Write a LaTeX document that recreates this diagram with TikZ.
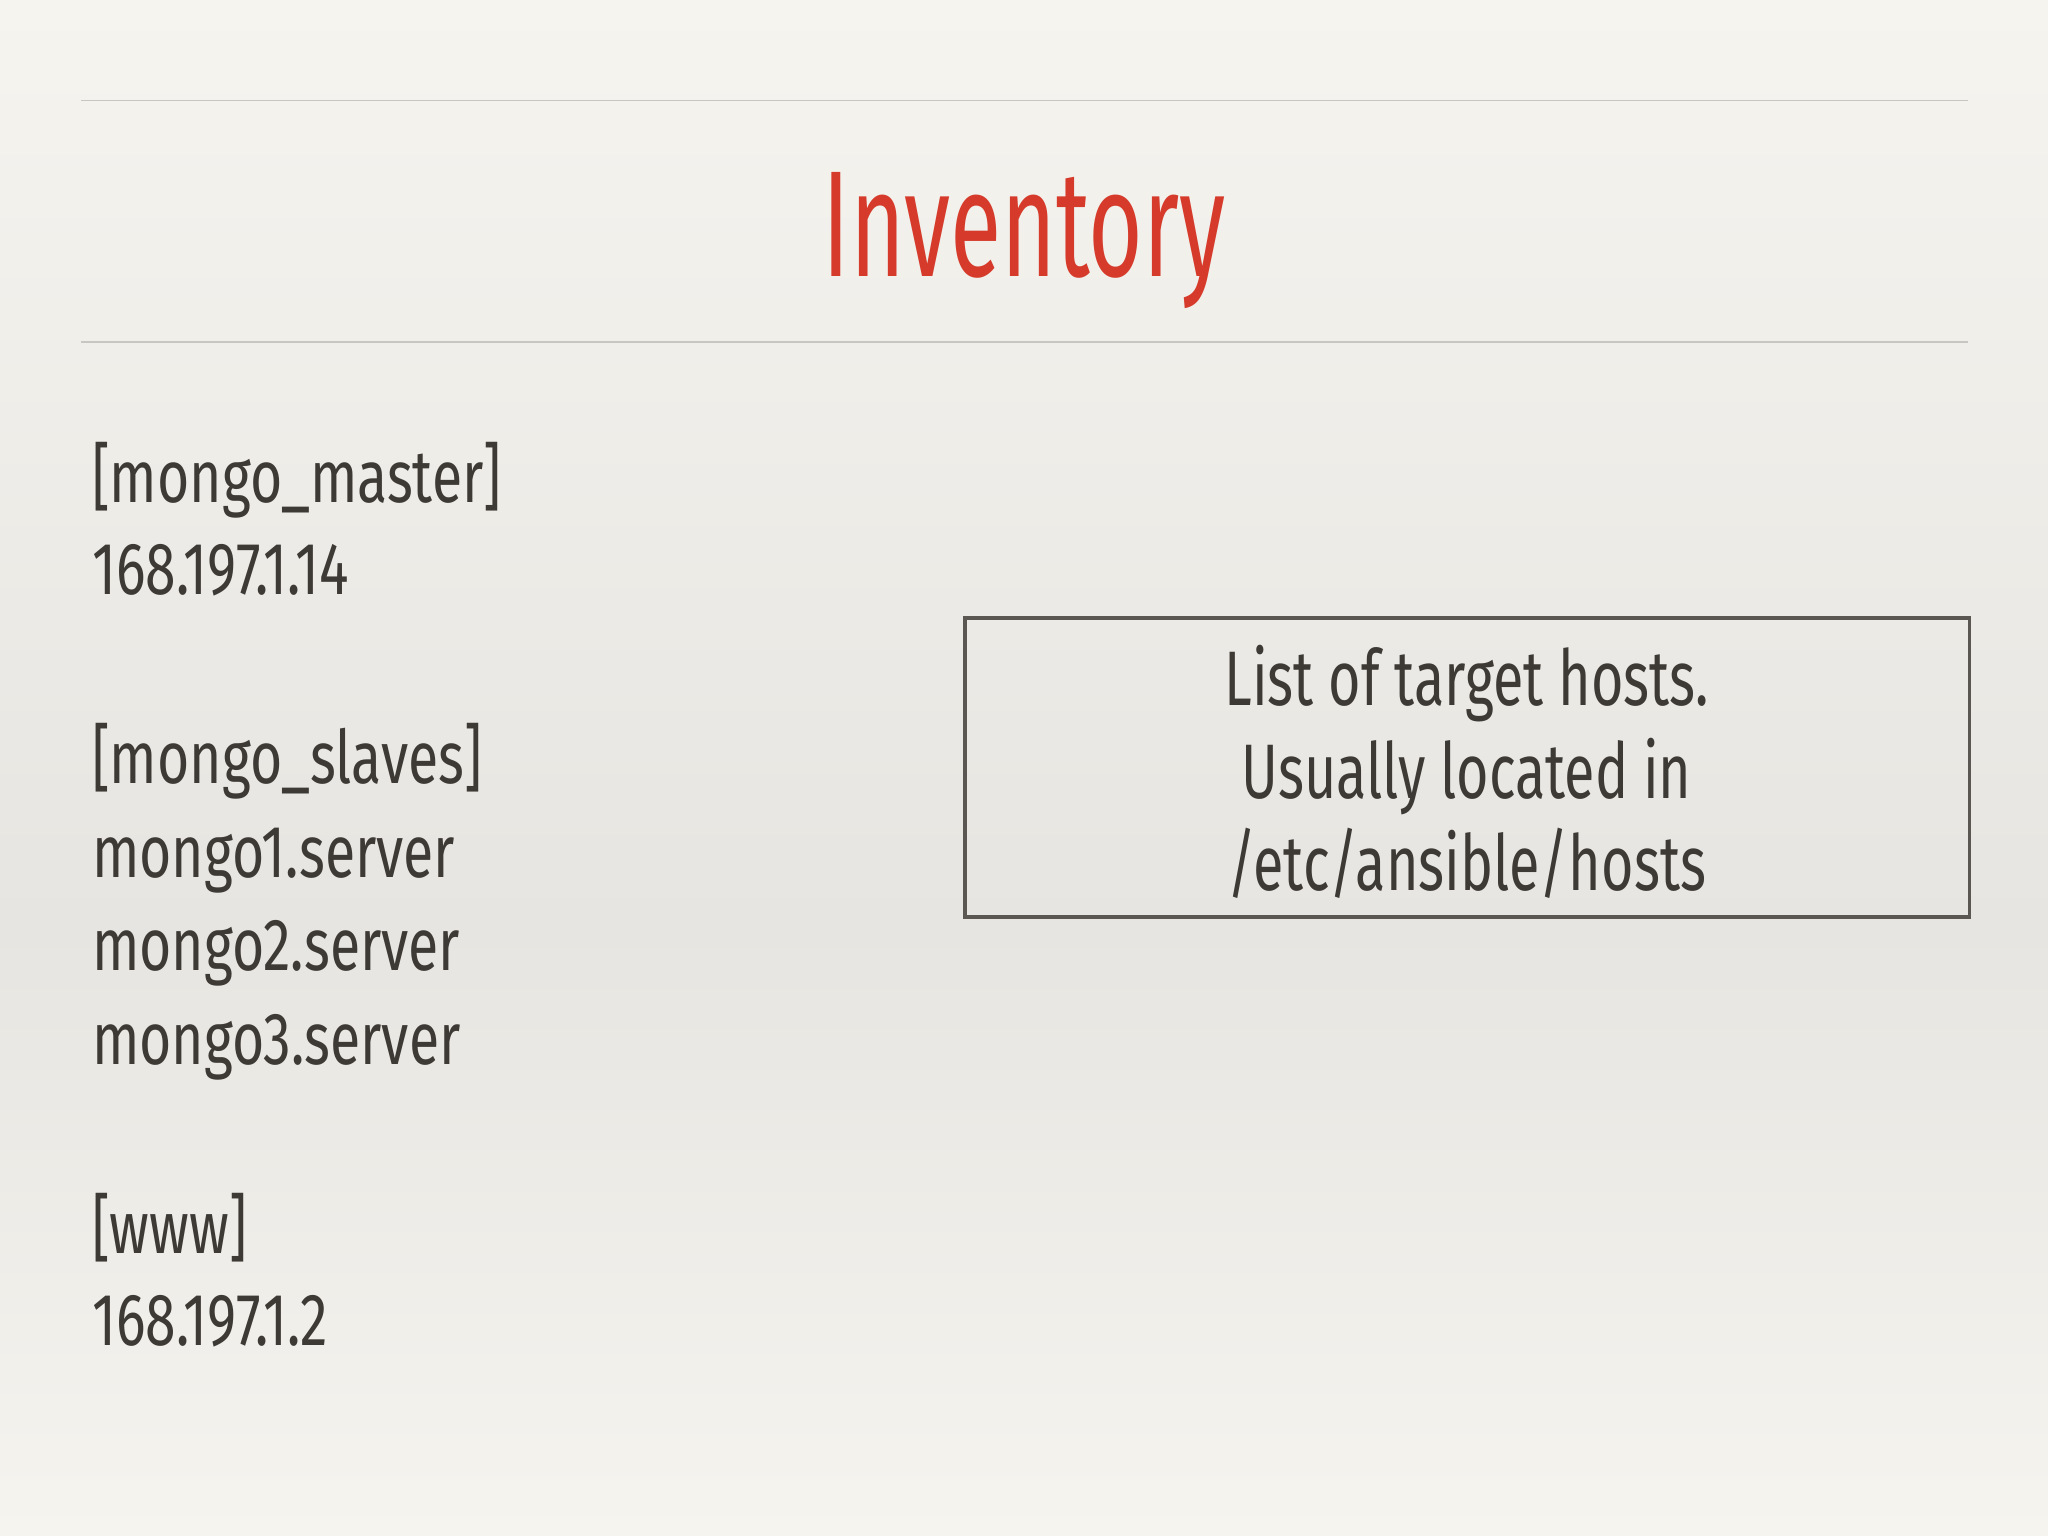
\documentclass[tikz,border=0pt]{standalone}
\usepackage{fontspec}
\setmainfont{Fira Sans}[FakeStretch=0.62]
\newfontfamily\bodyfont{Fira Sans}[FakeStretch=0.75]
\newfontfamily\boxfont{Fira Sans}[FakeStretch=0.72]
\begin{document}
\begin{tikzpicture}[x=0.01306cm,y=-0.01306cm,
  body/.style={anchor=base west,inner sep=0,font=\bodyfont\fontsize{21}{24}\selectfont,text=txt},
  boxt/.style={anchor=base,inner sep=0,font=\boxfont\fontsize{22}{26}\selectfont,text=txt}]
\definecolor{txt}{HTML}{3D3935}
\definecolor{ttl}{HTML}{D63A2A}
\definecolor{bgl}{HTML}{F5F4EF}
\definecolor{bgd}{HTML}{E6E5E1}
\definecolor{rule}{HTML}{C8C6C0}
\useasboundingbox (0,0) rectangle (1568,1176);
\shade[top color=bgl,bottom color=bgd] (0,0) rectangle (1568,710);
\shade[top color=bgd,bottom color=bgl] (0,710) rectangle (1568,1176);
\draw[rule,line width=0.5pt] (62,77) -- (1507,77);
\draw[rule,line width=0.5pt] (62,262) -- (1507,262);
\node[anchor=base,inner sep=0,text=ttl,font=\fontsize{43}{48}\selectfont] (title) at (784,212) {Inventory};
\node[body] (l1) at (70,385) {[mongo\_master]};
\node[body] (l2) at (70,455) {168.197.1.14};
\node[body] (l3) at (70,600) {[mongo\_slaves]};
\node[body] (l4) at (70,672) {mongo1.server};
\node[body] (l5) at (70,743) {mongo2.server};
\node[body] (l6) at (70,815) {mongo3.server};
\node[body] (l7) at (70,960) {[www]};
\node[body] (l8) at (70,1030) {168.197.1.2};
\draw[draw=txt!85,line width=1pt] (739,473) rectangle (1508,702);
\node[boxt] (b1) at (1123,540) {List of target hosts.};
\node[boxt] (b2) at (1123,611) {Usually located in};
\node[boxt] (b3) at (1123,682) {/etc/ansible/hosts};
\end{tikzpicture}
\end{document}
